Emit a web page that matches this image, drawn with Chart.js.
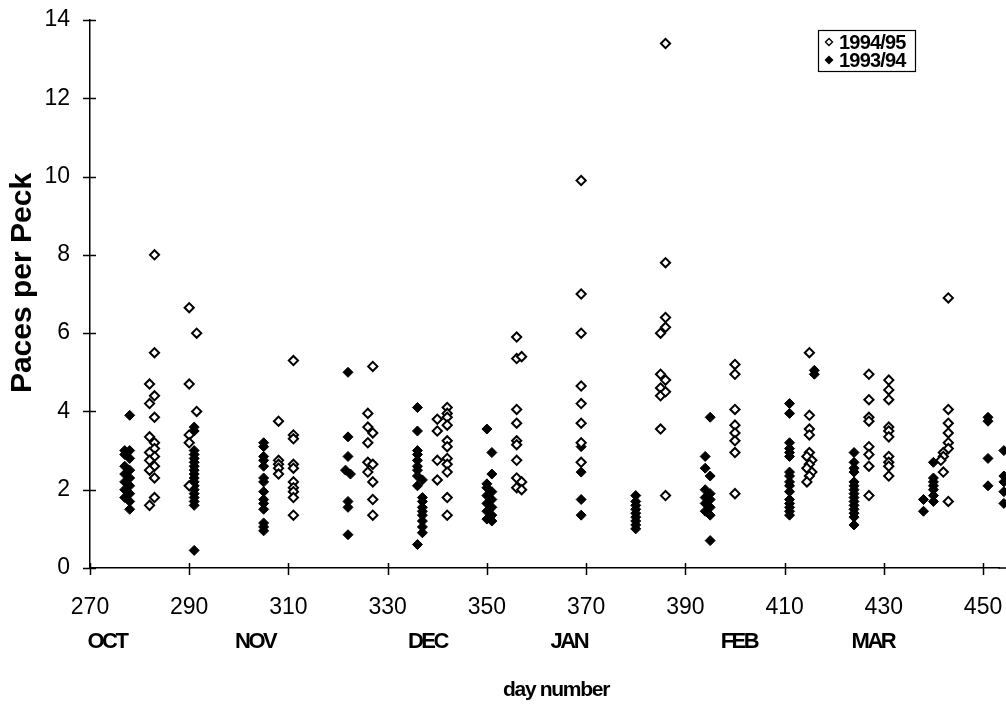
<!DOCTYPE html>
<html>
<head>
<meta charset="utf-8">
<script src="https://cdn.jsdelivr.net/npm/chart.js@4/dist/chart.umd.min.js"></script>
<style>
  html, body { margin: 0; padding: 0; background: #fff; }
  #wrap { position: relative; width: 1006px; height: 717px; }
</style>
</head>
<body>
<div id="wrap"><canvas id="c" width="1006" height="717"></canvas></div>
<script>
// ---- data ----
const seriesLabels = ['1994/95', '1993/94'];
const xTicks = [270, 290, 310, 330, 350, 370, 390, 410, 430, 450];
const yTicks = [0, 2, 4, 6, 8, 10, 12, 14];
const monthNames = ['OCT', 'NOV', 'DEC', 'JAN', 'FEB', 'MAR'];
const monthDays = [273.4, 303.3, 338, 366.5, 400.8, 427.8];
const xTitle = 'day number';
const yTitle = 'Paces per Peck';

// 1994/95 (open diamonds)
const openX = [
  283,283,283,283,283,283,283,283,283,283,
  282,282,282,282,282,282,282,
  290,290,290,290,290,291.5,291.5,
  308,308,308,308,308,
  311,311,311,311,311,311,311,311,311,311,
  326,326,326,326,326,
  327,327,327,327,327,327,
  340,340,340,340,
  342,342,342,342,342,342,342,342,342,342,342,
  356,356,356,356,356,356,356,356,356,
  357,357,357,
  369,369,369,369,369,369,369,369,
  385,385,385,385,385,
  386,386,386,386,386,386,386,
  400,400,400,400,400,400,400,400,
  415,415,415,415,415,414.5,415.5,415,414.5,415.5,415,414.5,
  427,427,427,427,427,427,427,427,
  431,431,431,431,431,431,431,431,431,431,
  443,443,443,443,443,443,442,442,441.5,442,443
];
const openY = [
  8.0,5.5,4.4,3.85,3.2,3.05,2.85,2.6,2.3,1.8,
  4.7,4.2,3.35,2.95,2.75,2.5,1.6,
  6.65,4.7,3.4,3.2,2.1,6.0,4.0,
  3.75,2.75,2.65,2.55,2.4,
  5.3,3.4,3.3,2.65,2.55,2.2,2.05,1.95,1.8,1.35,
  3.95,3.6,3.2,2.7,2.45,
  5.15,3.45,2.65,2.2,1.75,1.35,
  3.8,3.5,2.75,2.25,
  4.1,3.95,3.85,3.65,3.25,3.1,2.8,2.65,2.45,1.8,1.35,
  5.9,5.35,4.05,3.7,3.25,3.15,2.75,2.3,2.05,
  5.4,2.2,2.0,
  9.9,7.0,6.0,4.65,4.2,3.7,3.2,2.7,
  6.0,4.95,4.6,4.4,3.55,
  13.4,7.8,6.4,6.15,4.8,4.5,1.85,
  5.2,4.95,4.05,3.65,3.45,3.25,2.95,1.9,
  5.5,3.9,3.55,3.4,2.95,2.85,2.75,2.65,2.55,2.45,2.35,2.2,
  4.95,4.3,3.85,3.75,3.1,2.9,2.6,1.85,
  4.8,4.55,4.3,3.6,3.5,3.35,2.85,2.7,2.6,2.35,
  6.9,4.05,3.7,3.45,3.2,3.05,2.95,2.85,2.75,2.45,1.7
];

// 1993/94 (filled diamonds)
const filledX = [
  278,277,278,277,278,277,278,277,278,277,278,277,278,277,278,278,
  291,291,291,291,291,291,291,291,291,291,291,291,291,291,291,291,291,291,
  305,305,305,305,305,305,305,305,305,305,305,305,305,305,
  322,322,322,321.5,322.5,322,322,322,
  336,336,336,336,336,336,336,336,337,336,337,337,337,337,337,337,337,337,336,
  350,351,351,350,350,351,350,351,350,351,350,351,350,351,
  369,369,369,369,
  380,380,380,380,380,380,380,380,380,
  395,394,394,395,394,395,394,395,394,395,394,395,395,
  411,411,411,411,411,411,411,411,411,411,411,411,411,411,411,411,
  416,416,
  424,424,424,424,424,424,424,424,424,424,424,424,424,424,424,
  438,438,
  440,440,440,440,440,440,440,
  451,451,451,451,
  454.2,454.2,454.2,454.2,454.2
];
const filledY = [
  3.9,3.0,3.0,2.9,2.8,2.6,2.5,2.4,2.3,2.2,2.1,2.0,1.9,1.8,1.7,1.5,
  3.6,3.5,3.0,2.9,2.8,2.7,2.6,2.5,2.4,2.3,2.2,2.1,2.0,1.9,1.8,1.7,1.6,0.45,
  3.2,3.1,2.85,2.75,2.6,2.3,2.2,1.95,1.75,1.65,1.5,1.15,1.05,0.95,
  5.0,3.35,2.85,2.5,2.4,1.7,1.55,0.85,
  4.1,3.5,3.0,2.9,2.75,2.6,2.5,2.35,2.25,2.1,1.8,1.7,1.55,1.45,1.35,1.2,1.05,0.9,0.6,
  3.55,2.95,2.4,2.15,2.05,1.95,1.85,1.75,1.65,1.55,1.45,1.35,1.25,1.2,
  3.1,2.45,1.75,1.35,
  1.85,1.7,1.6,1.5,1.4,1.3,1.2,1.1,1.0,
  3.85,2.85,2.55,2.35,2.0,1.9,1.8,1.75,1.65,1.55,1.45,1.35,0.7,
  4.2,3.95,3.2,3.05,2.95,2.85,2.45,2.35,2.2,2.1,1.95,1.75,1.65,1.55,1.45,1.35,
  5.05,4.95,
  2.95,2.7,2.55,2.45,2.2,2.1,2.0,1.9,1.8,1.7,1.6,1.5,1.4,1.3,1.1,
  1.75,1.45,
  2.7,2.3,2.2,2.1,2.0,1.85,1.7,
  3.85,3.75,2.8,2.1,
  3.0,2.35,2.2,1.95,1.65
];

const toPts = (xs, ys) => xs.map((x, i) => ({ x: x, y: ys[i] }));

// ---- plugin: crossing tick marks, month labels, axis titles, legend ----
const extras = {
  id: 'extras',
  afterDraw(chart) {
    const ctx = chart.ctx;
    const xs = chart.scales.x, ys = chart.scales.y;
    const x0 = xs.getPixelForValue(xs.min);
    const y0 = ys.getPixelForValue(0);
    ctx.save();
    ctx.strokeStyle = '#000';
    ctx.lineWidth = 1.5;
    ctx.beginPath();
    // extend the x axis line to the right edge of the canvas
    ctx.moveTo(chart.chartArea.right - 1, y0); ctx.lineTo(chart.width, y0);
    xTicks.forEach(v => {
      const px = Math.round(xs.getPixelForValue(v)) + 0.5;
      ctx.moveTo(px, y0 - 5); ctx.lineTo(px, y0 + 7);
    });
    yTicks.forEach(v => {
      const py = Math.round(ys.getPixelForValue(v)) + 0.5;
      ctx.moveTo(x0 - 7, py); ctx.lineTo(x0 + 6, py);
    });
    ctx.stroke();

    // month labels
    ctx.fillStyle = '#000';
    ctx.font = 'bold 22px "Liberation Sans", Arial, sans-serif';
    if ('letterSpacing' in ctx) ctx.letterSpacing = '-2.5px';
    ctx.textAlign = 'center';
    ctx.textBaseline = 'middle';
    monthNames.forEach((m, i) => {
      ctx.fillText(m, xs.getPixelForValue(monthDays[i]), 642);
    });

    // x axis title
    ctx.font = 'bold 21px "Liberation Sans", Arial, sans-serif';
    if ('letterSpacing' in ctx) ctx.letterSpacing = '-1.3px';
    ctx.fillText(xTitle, 556, 690);

    // y axis title
    ctx.save();
    ctx.translate(23, 283);
    ctx.rotate(-Math.PI / 2);
    ctx.font = 'bold 30px "Liberation Sans", Arial, sans-serif';
    if ('letterSpacing' in ctx) ctx.letterSpacing = '0px';
    ctx.fillText(yTitle, 0, 0);
    ctx.restore();

    // legend box
    const bx = 818, by = 30, bw = 97, bh = 41;
    ctx.lineWidth = 1.2;
    ctx.strokeStyle = '#000';
    ctx.strokeRect(bx + 0.5, by + 0.5, bw, bh);
    ctx.font = 'bold 20px "Liberation Sans", Arial, sans-serif';
    if ('letterSpacing' in ctx) ctx.letterSpacing = '-0.8px';
    ctx.textAlign = 'left';
    const rows = [by + 12, by + 30];
    chart.data.datasets.forEach((ds, i) => {
      const cx = bx + 11, cy = rows[i];
      ctx.beginPath();
      ctx.moveTo(cx, cy - 3.5); ctx.lineTo(cx + 3.5, cy); ctx.lineTo(cx, cy + 3.5); ctx.lineTo(cx - 3.5, cy); ctx.closePath();
      ctx.fillStyle = ds.backgroundColor;
      ctx.fill();
      ctx.lineWidth = 1.4;
      ctx.stroke();
      ctx.fillStyle = '#000';
      ctx.fillText(ds.label, bx + 21, cy + 1);
    });
    ctx.restore();
  }
};

new Chart(document.getElementById('c'), {
  type: 'scatter',
  data: {
    datasets: [
      {
        label: seriesLabels[0],
        data: toPts(openX, openY),
        pointStyle: 'rectRot',
        pointRadius: 4.6,
        pointBorderWidth: 2,
        backgroundColor: '#ffffff',
        borderColor: '#000000',
        clip: false
      },
      {
        label: seriesLabels[1],
        data: toPts(filledX, filledY),
        pointStyle: 'rectRot',
        pointRadius: 5,
        pointBorderWidth: 1,
        backgroundColor: '#000000',
        borderColor: '#000000',
        clip: false
      }
    ]
  },
  options: {
    responsive: false,
    animation: false,
    events: [],
    layout: { padding: { top: 20, right: 0, left: 0, bottom: 0 } },
    plugins: { legend: { display: false }, tooltip: { enabled: false } },
    scales: {
      x: {
        type: 'linear',
        min: 270,
        max: 453.3,
        afterBuildTicks: s => { s.ticks = xTicks.map(v => ({ value: v })); },
        afterFit: s => { s.height = 149; s.paddingLeft = 0; s.paddingRight = 0; },
        grid: { display: false, drawTicks: false },
        border: { display: true, color: '#000', width: 1.5 },
        ticks: {
          color: '#000',
          padding: 26,
          maxRotation: 0,
          font: { family: '"Liberation Sans", Arial, sans-serif', size: 23 }
        }
      },
      y: {
        type: 'linear',
        min: 0,
        max: 14,
        afterBuildTicks: s => { s.ticks = yTicks.map(v => ({ value: v })); },
        afterFit: s => { s.width = 90; s.paddingTop = 0; s.paddingBottom = 0; },
        grid: { display: false, drawTicks: false },
        border: { display: true, color: '#000', width: 1.5 },
        ticks: {
          color: '#000',
          padding: 20,
          font: { family: '"Liberation Sans", Arial, sans-serif', size: 23 }
        }
      }
    }
  },
  plugins: [extras]
});
</script>
</body>
</html>
